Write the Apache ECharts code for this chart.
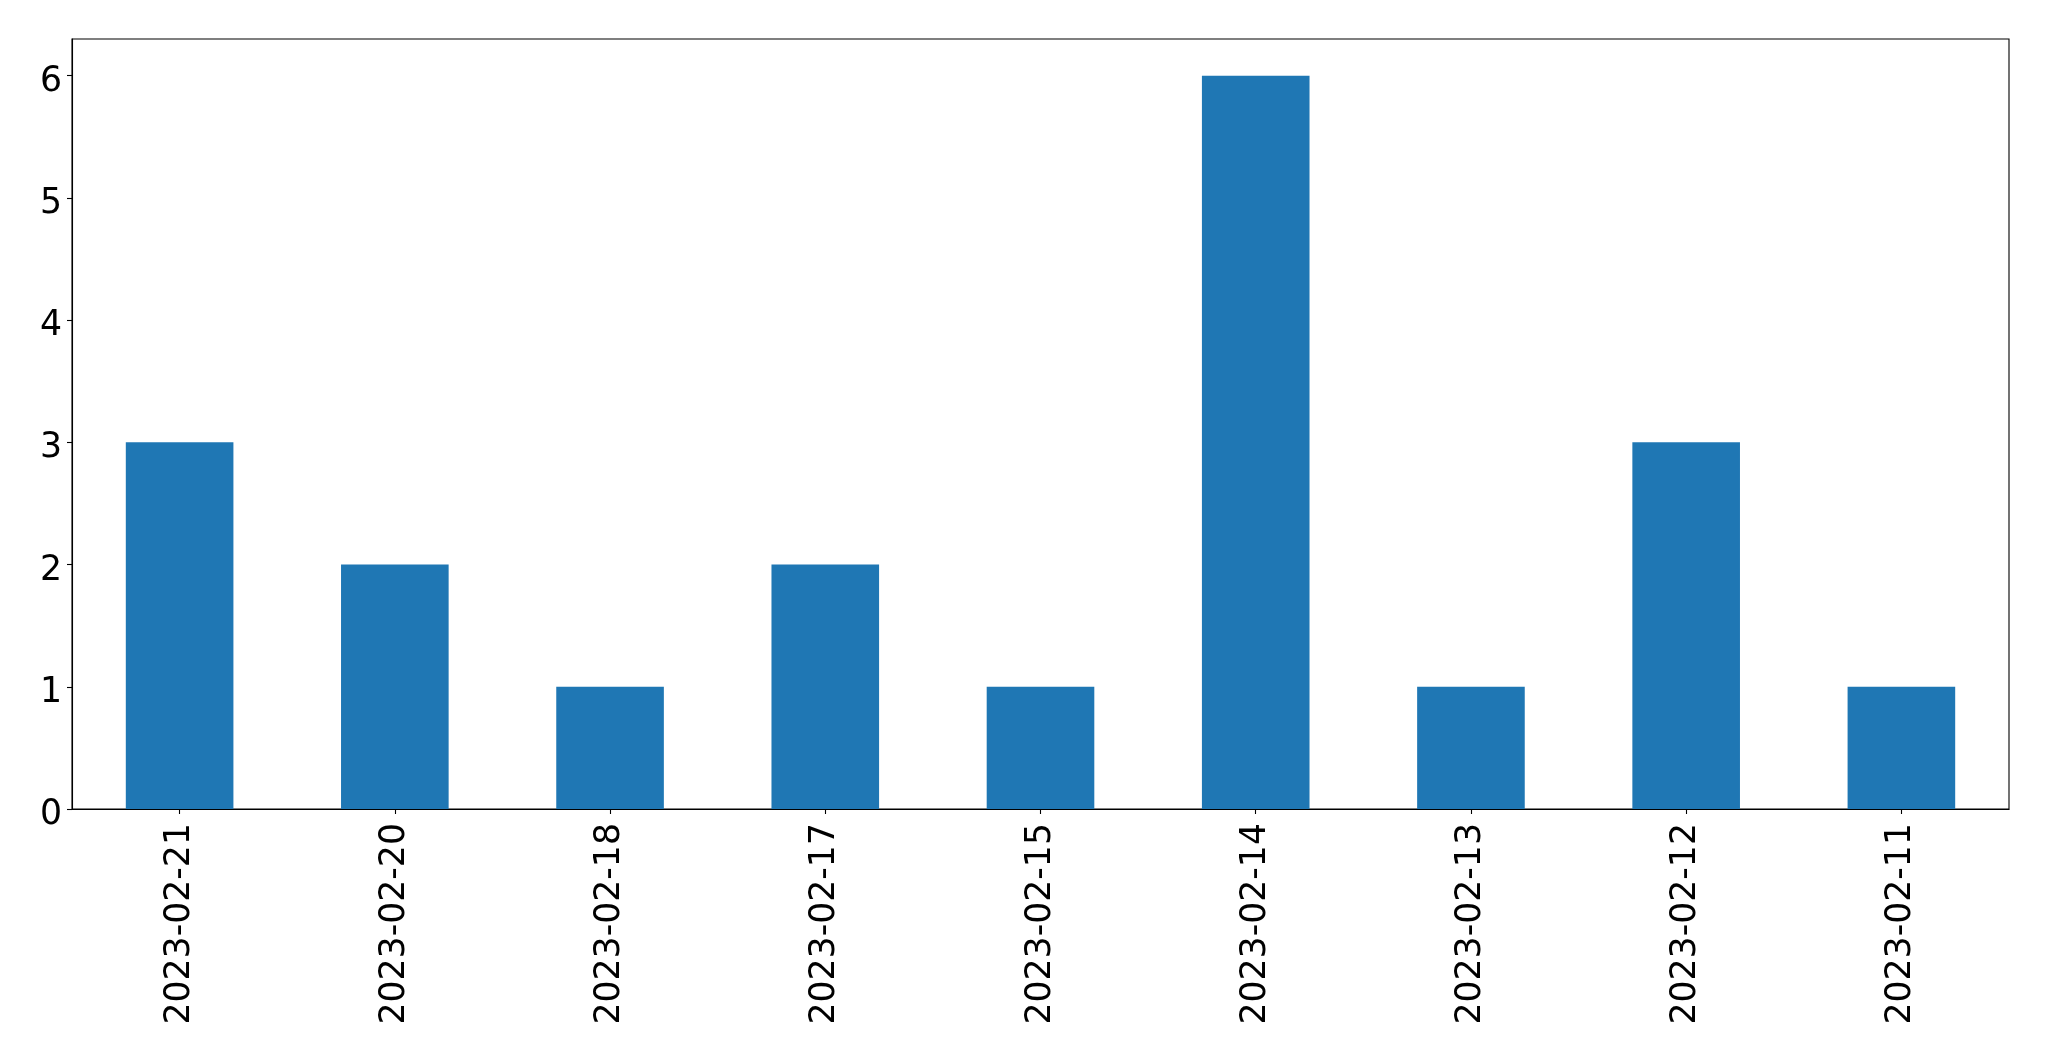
<!DOCTYPE html>
<html>
<head>
<meta charset="utf-8">
<script src="https://cdn.jsdelivr.net/npm/echarts@6/dist/echarts.min.js"></script>
<style>
html,body{margin:0;padding:0;background:#fff;}
#c{width:2049px;height:1061px;}
</style>
</head>
<body>
<div id="c"></div>
<script>
var categories = ["2023-02-21","2023-02-20","2023-02-18","2023-02-17","2023-02-15","2023-02-14","2023-02-13","2023-02-12","2023-02-11"];
var counts = [3,2,1,2,1,6,1,3,1];
var yTicks = [0,1,2,3,4,5,6];

var chart = echarts.init(document.getElementById('c'), null, {renderer:'canvas'});
chart.setOption({
  animation: false,
  grid: {left:72, right:40, top:39, bottom:252, show:true, borderColor:'#000', borderWidth:1.1, backgroundColor:'transparent'},
  xAxis: {
    type:'category', data: categories, boundaryGap:true,
    axisLine:{show:true, lineStyle:{color:'#000', width:1.1}},
    axisTick:{show:true, alignWithLabel:true, length:5, lineStyle:{color:'#000', width:1.1}},
    axisLabel:{rotate:90, margin:14, color:'#000', fontSize:34.7, fontFamily:'DejaVu Sans', interval:0},
    splitLine:{show:false}
  },
  yAxis: {
    type:'value', min:0, max:6.3,
    axisLine:{show:true, lineStyle:{color:'#000', width:1.1}},
    axisTick:{show:true, length:5, lineStyle:{color:'#000', width:1.1}, customValues: yTicks},
    axisLabel:{margin:10, color:'#000', fontSize:34.7, fontFamily:'DejaVu Sans', customValues: yTicks,
      formatter: function (v) { return '{p|' + v + '}'; },
      rich: { p: { fontSize:34.7, fontFamily:'DejaVu Sans', color:'#000', padding:[12,0,0,0] } }
    },
    splitLine:{show:false}
  },
  series: [{
    type:'bar', data: counts, barWidth:'50%',
    itemStyle:{color:'#1f77b4'}
  }]
});
</script>
</body>
</html>
